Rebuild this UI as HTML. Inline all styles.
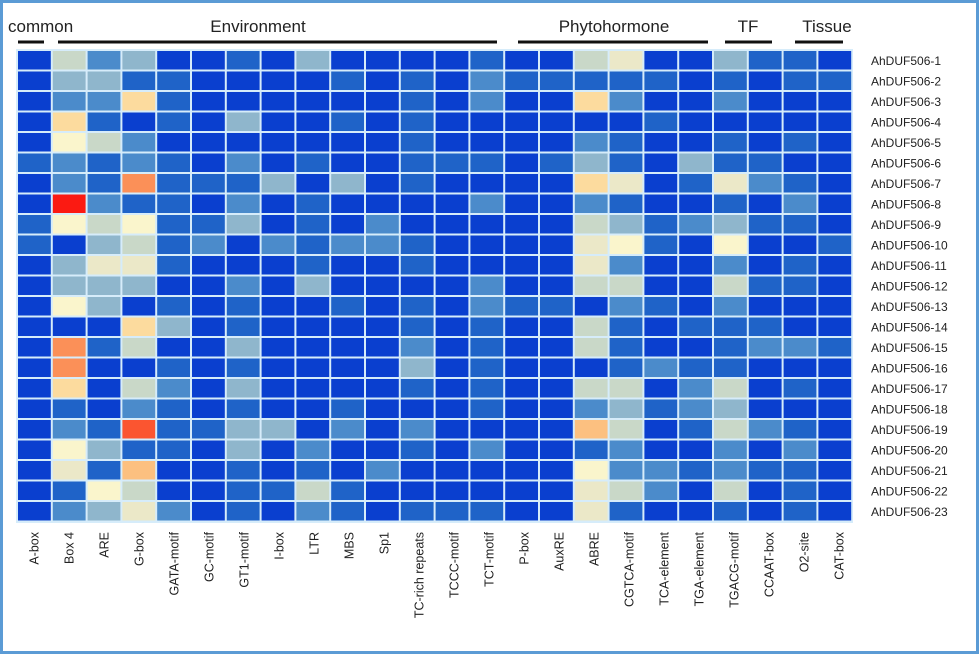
<!DOCTYPE html>
<html><head><meta charset="utf-8"><style>
html,body{margin:0;padding:0;background:#fff}
svg{display:block;font-family:"Liberation Sans",sans-serif}
</style></head><body>
<svg id="s" width="979" height="654" xmlns="http://www.w3.org/2000/svg">
<rect x="1.5" y="1.5" width="976" height="651" fill="#fff" stroke="#5b9bd5" stroke-width="3"/>
<g font-size="17" fill="#222">
<text x="8" y="32">common</text>
<text x="258" y="32" text-anchor="middle">Environment</text>
<text x="614" y="32" text-anchor="middle">Phytohormone</text>
<text x="748" y="32" text-anchor="middle">TF</text>
<text x="827" y="32" text-anchor="middle">Tissue</text>
</g>
<g stroke="#111" stroke-width="3">
<line x1="18" y1="42" x2="44" y2="42"/>
<line x1="58" y1="42" x2="497" y2="42"/>
<line x1="518" y1="42" x2="708" y2="42"/>
<line x1="725" y1="42" x2="772" y2="42"/>
<line x1="795" y1="42" x2="843" y2="42"/>
</g>
<rect x="16" y="49" width="837" height="474" fill="#d6ecfa"/>
<g id="cells"></g>
<g font-size="12" fill="#222" id="rl">
<text x="871" y="65">AhDUF506-1</text><text x="871" y="85.5">AhDUF506-2</text><text x="871" y="106">AhDUF506-3</text><text x="871" y="126.5">AhDUF506-4</text><text x="871" y="147">AhDUF506-5</text><text x="871" y="167.5">AhDUF506-6</text><text x="871" y="188">AhDUF506-7</text><text x="871" y="208.5">AhDUF506-8</text><text x="871" y="229">AhDUF506-9</text><text x="871" y="249.5">AhDUF506-10</text><text x="871" y="270">AhDUF506-11</text><text x="871" y="290.5">AhDUF506-12</text><text x="871" y="311">AhDUF506-13</text><text x="871" y="331.5">AhDUF506-14</text><text x="871" y="352">AhDUF506-15</text><text x="871" y="372.5">AhDUF506-16</text><text x="871" y="393">AhDUF506-17</text><text x="871" y="413.5">AhDUF506-18</text><text x="871" y="434">AhDUF506-19</text><text x="871" y="454.5">AhDUF506-20</text><text x="871" y="475">AhDUF506-21</text><text x="871" y="495.5">AhDUF506-22</text><text x="871" y="516">AhDUF506-23</text>
</g>
<g font-size="12.5" fill="#222" text-anchor="end">
<text transform="translate(38.5,532) rotate(-90)">A-box</text>
<text transform="translate(73.5,532) rotate(-90)">Box 4</text>
<text transform="translate(108.5,532) rotate(-90)">ARE</text>
<text transform="translate(143.5,532) rotate(-90)">G-box</text>
<text transform="translate(178.5,532) rotate(-90)">GATA-motif</text>
<text transform="translate(213.5,532) rotate(-90)">GC-motif</text>
<text transform="translate(248.5,532) rotate(-90)">GT1-motif</text>
<text transform="translate(283.5,532) rotate(-90)">I-box</text>
<text transform="translate(318.5,532) rotate(-90)">LTR</text>
<text transform="translate(353.5,532) rotate(-90)">MBS</text>
<text transform="translate(388.5,532) rotate(-90)">Sp1</text>
<text transform="translate(423.5,532) rotate(-90)">TC-rich repeats</text>
<text transform="translate(458.5,532) rotate(-90)">TCCC-motif</text>
<text transform="translate(493.5,532) rotate(-90)">TCT-motif</text>
<text transform="translate(528.5,532) rotate(-90)">P-box</text>
<text transform="translate(563.5,532) rotate(-90)">AuxRE</text>
<text transform="translate(598.5,532) rotate(-90)">ABRE</text>
<text transform="translate(633.5,532) rotate(-90)">CGTCA-motif</text>
<text transform="translate(668.5,532) rotate(-90)">TCA-element</text>
<text transform="translate(703.5,532) rotate(-90)">TGA-element</text>
<text transform="translate(738.5,532) rotate(-90)">TGACG-motif</text>
<text transform="translate(773.5,532) rotate(-90)">CCAAT-box</text>
<text transform="translate(808.5,532) rotate(-90)">O2-site</text>
<text transform="translate(843.5,532) rotate(-90)">CAT-box</text>
</g>
</svg>
<script>
var C={D:"#0a3fcf",M:"#1f63c8",L:"#4b8bcb",P:"#8fb6cc",G:"#c9d8c8",Y:"#ebe8c8",C:"#faf5cc",O:"#fcdb9e",Q:"#fcc080",R:"#fb9058",X:"#fb1a12",Z:"#fb5530"};
var rows=[
"DGLPDDMDPDDD"+"DMDDGYDDPMMD",
"DPPMMDDDDMDM"+"DLMMMMMDMDMM",
"DLLOMDDDDDDM"+"DLDDOLDDLDDD",
"DOMDMDPDDMDM"+"DDDDDDMDDDDD",
"DCGLDDDDDDDM"+"DDDDLMDDMDMD",
"MLMLMDLDMDDM"+"MMDMPMDPMMDD",
"DLMRMMMPDPDM"+"DDDDOYDMYLMD",
"DXLMMDLDMDDD"+"DLDDLMDDMDLD",
"MCGCMMPDMDLD"+"DDDDGPMLPMMD",
"MDPGMLDLMLLM"+"DDDDYCMDCDDM",
"DPYYMDDDMDDM"+"DDDDYLDDLDMD",
"DPPPDDLDPDDD"+"DLDDGGDDGMMD",
"DCPDMDMDDMDM"+"DLMMDLMDLDDD",
"DDDOPDMDDDDM"+"DMDDGMDMMMDD",
"DRMGDDPDDDDL"+"DMDDGMDDMLLM",
"DRDDMDMDDDDP"+"DMDDDMLMMDDD",
"DODGLDPDDDDM"+"DMDDGGDLGDMD",
"DMDLMDMDDMDD"+"DMDDLPMLPDDD",
"DLMZMMPPDLDL"+"DDDDQGDMGLMD",
"DCPMMDPDLDDM"+"DLDDMLDDLDLD",
"DYMQDDMDMDLD"+"DDDDCLLMLMMD",
"DMCGDDMMGMDD"+"DDDDYGLDGDMD",
"DLPYLDMDLMDM"+"MMDDYMDDMDMD"];
var g=document.getElementById("cells"),h="";
var x0=17,y0=50,w=34.8,hh=20.5;
rows.forEach(function(r,i){for(var j=0;j<24;j++){
h+='<rect x="'+(x0+j*w+1).toFixed(1)+'" y="'+(y0+i*hh+1).toFixed(1)+'" width="'+(w-2).toFixed(1)+'" height="'+(hh-2).toFixed(1)+'" fill="'+C[r[j]]+'"/>';}});
g.innerHTML=h;
</script>
</body></html>
